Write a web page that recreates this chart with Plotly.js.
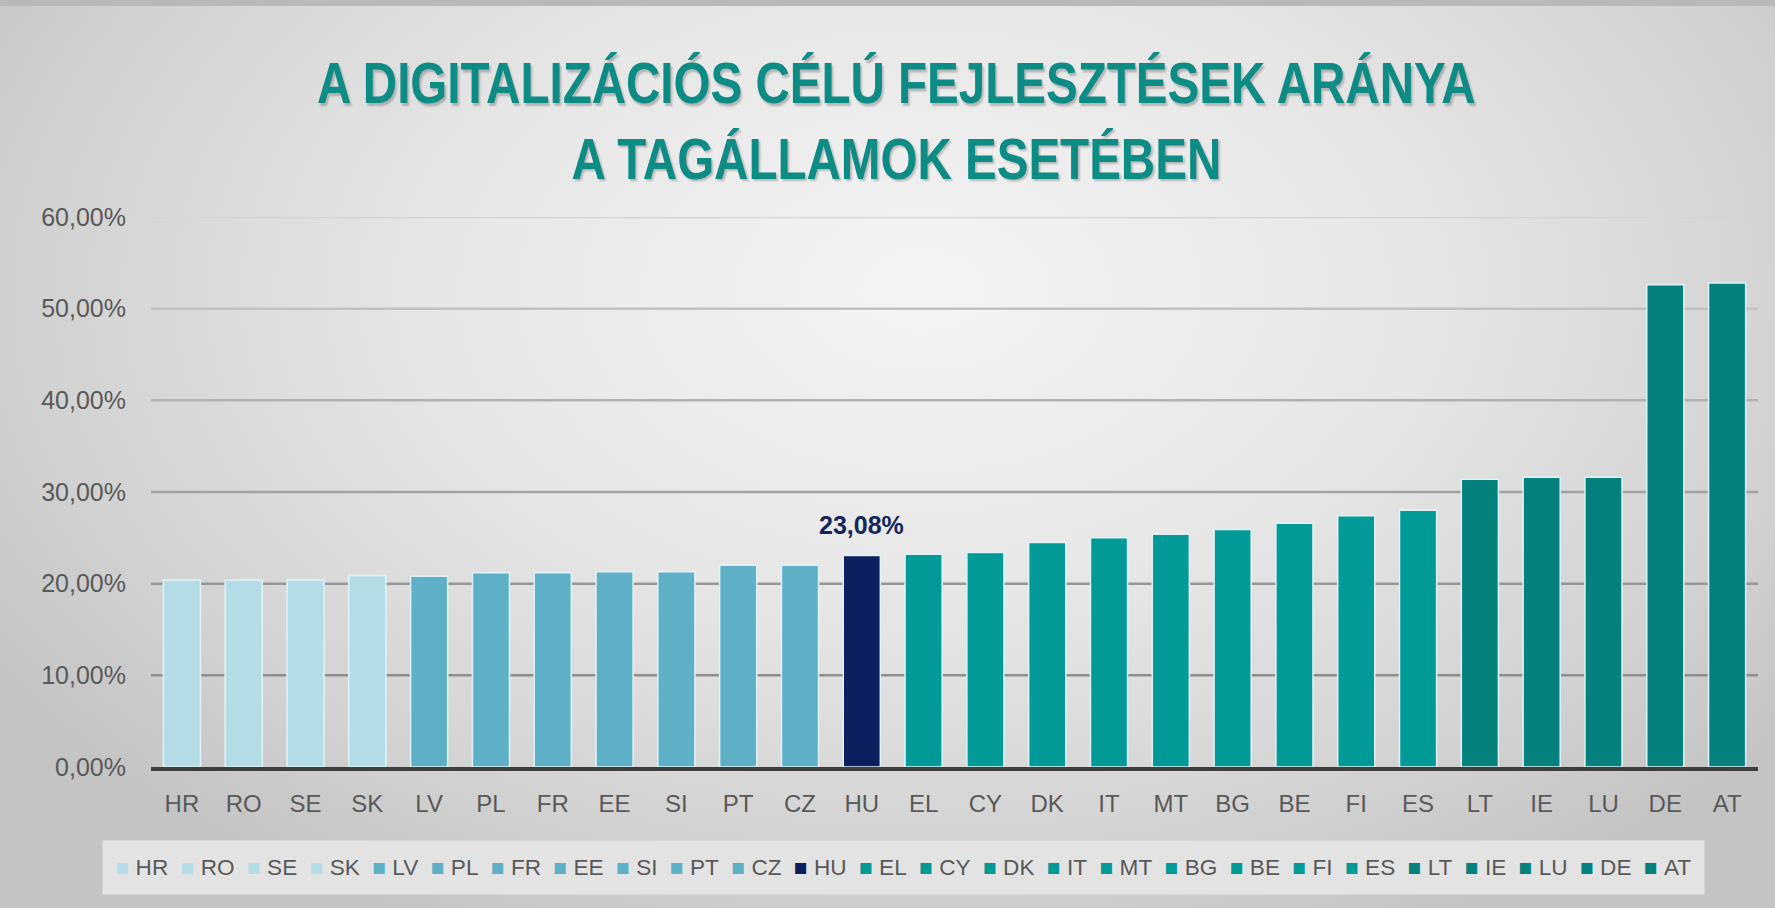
<!DOCTYPE html>
<html>
<head>
<meta charset="utf-8">
<script src="https://cdn.plot.ly/plotly-3.0.1.min.js"></script>
<style>
  html, body { margin:0; padding:0; width:1775px; height:908px; overflow:hidden; }
  body {
    background: radial-gradient(ellipse 62% 78% at 52% 32%, #f4f4f4 0%, #e6e6e6 45%, #d2d2d2 80%, #c4c4c4 100%);
    position: relative;
  }
  #topband { position:absolute; left:0; top:0; width:1775px; height:6px; background:#b9b9b9; }
  #chart { position:absolute; left:0; top:0; width:1775px; height:908px; }
  .gtitle {
    text-shadow: 2px 2px 2px rgba(0,0,0,0.22);
    transform-box: fill-box; transform-origin: 50% 50%; transform: scaleX(0.82);
  }
</style>
</head>
<body>
<div id="topband"></div>
<div id="chart"></div>
<script>
// ---- data ----
const countries = ['HR','RO','SE','SK','LV','PL','FR','EE','SI','PT','CZ','HU','EL','CY','DK','IT','MT','BG','BE','FI','ES','LT','IE','LU','DE','AT'];
const values    = [20.40,20.40,20.40,20.90,20.80,21.20,21.20,21.30,21.30,22.00,22.00,23.08,23.20,23.40,24.50,25.00,25.40,25.90,26.60,27.40,28.00,31.40,31.60,31.60,52.60,52.80];
const groups    = ['light','light','light','light','mid','mid','mid','mid','mid','mid','mid','hu','teal','teal','teal','teal','teal','teal','teal','teal','teal','dark','dark','dark','dark','dark'];
const yTicks    = [0,10,20,30,40,50,60];
const labelledCountry = 'HU';

// ---- styles ----
const groupColors = { light:'#b4dce7', mid:'#5eb0c7', hu:'#0d1f5e', teal:'#019a97', dark:'#04807d' };
const textGray = '#595959';
const baseFont = 'Liberation Sans, Arial, sans-serif';

function fmtPct(v) { return v.toFixed(2).replace('.', ',') + '%'; }

const traces = countries.map((c, i) => ({
  type: 'bar',
  name: c,
  x: [c],
  y: [values[i]],
  marker: { color: groupColors[groups[i]], line: { color: '#dff3f6', width: 1.5 } },
  hoverinfo: 'x+y',
  showlegend: false
}));

// gridlines fading towards the top
function lerpGray(t) {
  const a = 0x8a, b = 0xd4;
  const v = Math.round(a + (b - a) * t);
  return 'rgb(' + v + ',' + v + ',' + v + ')';
}
const ymax = yTicks[yTicks.length - 1];
const shapes = yTicks.filter(v => v > 0).map(v => ({
  type: 'line', xref: 'paper', yref: 'y', x0: 0, x1: 1, y0: v, y1: v,
  layer: 'below', line: { color: lerpGray(Math.pow(v / ymax, 1.6)), width: 2.5 }
}));

// legend row built from the data
const legendText = countries.map((c, i) =>
  '<span style="color:' + groupColors[groups[i]] + '">\u25A0</span>\u00a0' + c
).join('\u00a0\u00a0');

const hi = countries.indexOf(labelledCountry);
const annotations = [
  {
    xref: 'x', yref: 'y', x: countries[hi], y: values[hi],
    text: '<b>' + fmtPct(values[hi]) + '</b>',
    showarrow: false, yanchor: 'bottom', yshift: 14,
    font: { family: baseFont, size: 25, color: '#13265c' }
  },
  {
    xref: 'paper', yref: 'paper', x: 0.4683, y: -0.1836,
    xanchor: 'center', yanchor: 'middle',
    text: legendText, showarrow: false,
    bgcolor: '#e3e3e3', borderpad: 3,
    width: 1595, height: 47, align: 'center', valign: 'middle',
    font: { family: baseFont, size: 22.6, color: textGray }
  }
];

const layout = {
  width: 1775, height: 908,
  margin: { l: 151, r: 17, t: 217, b: 141 },
  paper_bgcolor: 'rgba(0,0,0,0)',
  plot_bgcolor: 'rgba(0,0,0,0)',
  separators: ',.',
  barmode: 'overlay',
  bargap: 0.4,
  title: {
    text: 'A DIGITALIZÁCIÓS CÉLÚ FEJLESZTÉSEK ARÁNYA<br>A TAGÁLLAMOK ESETÉBEN',
    xref: 'container', x: 0.505, xanchor: 'center',
    yref: 'container', y: 0.886, yanchor: 'top',
    font: { family: 'Liberation Sans, Arial, sans-serif', size: 58, color: '#0d8c86', weight: 700 }
  },
  xaxis: {
    type: 'category',
    categoryorder: 'array', categoryarray: countries,
    showline: true, linecolor: '#3d3d3d', linewidth: 4,
    ticks: '', showgrid: false, zeroline: false,
    ticklabelstandoff: 12,
    tickfont: { family: baseFont, size: 24, color: textGray },
    fixedrange: true
  },
  yaxis: {
    range: [0, ymax], tickmode: 'array', tickvals: yTicks,
    ticktext: yTicks.map(fmtPct),
    showgrid: false, zeroline: false, showline: false, ticks: '',
    ticklabelstandoff: 24,
    tickfont: { family: baseFont, size: 25, color: textGray },
    fixedrange: true
  },
  shapes: shapes,
  annotations: annotations,
  showlegend: false
};

Plotly.newPlot('chart', traces, layout, { displayModeBar: false, staticPlot: true });
</script>
</body>
</html>
